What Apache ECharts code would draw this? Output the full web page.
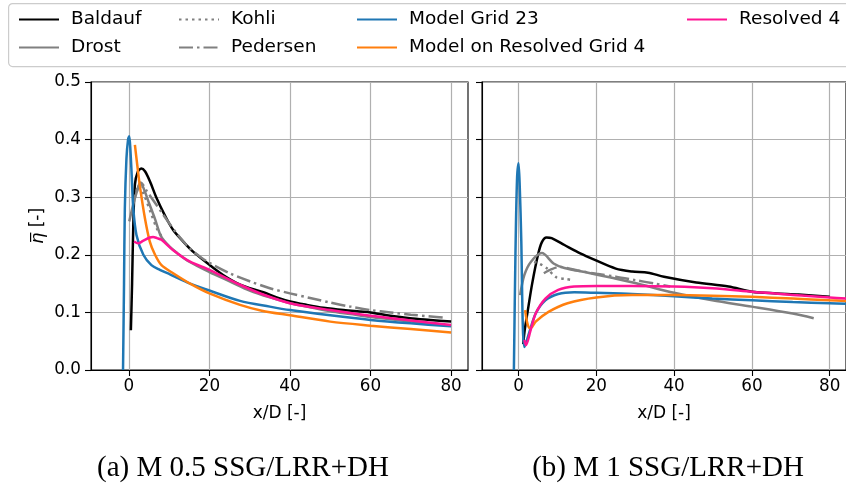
<!DOCTYPE html>
<html>
<head>
<meta charset="utf-8">
<script src="https://cdn.jsdelivr.net/npm/echarts@6/dist/echarts.min.js"></script>
<style>html,body{margin:0;padding:0;background:#fff}#c{width:846px;height:489px}</style>
</head>
<body>
<div id="c"></div>
<script>
// ---- data (x/D, eta) ----
const xTicks = [0, 20, 40, 60, 80];
const legendCols = [["Baldauf", "Drost"], ["Kohli", "Pedersen"], ["Model Grid 23", "Model on Resolved Grid 4"], ["Resolved 4"]];
const captions = ["(a) M 0.5 SSG/LRR+DH", "(b) M 1 SSG/LRR+DH"];

// panel (a) M 0.5
const baldaufA = [[0.5,0.069],[0.8,0.15],[1.1,0.252],[1.5,0.322],[2.2,0.344],[3.1,0.35],[4.0,0.345],[5.2,0.328],[6.9,0.298],[8.9,0.269],[11,0.243],[13.5,0.223],[16,0.205],[18.5,0.191],[21,0.177],[23.4,0.165],[26.8,0.151],[30,0.142],[33.4,0.135],[36.7,0.126],[40,0.119],[44.2,0.113],[48.3,0.108],[53.3,0.104],[60,0.1],[64.9,0.094],[69.8,0.09],[74.8,0.087],[80,0.084]];
const drostA = [[0.1,0.258],[1,0.285],[2,0.31],[2.8,0.325],[3.5,0.318],[5,0.29],[6.5,0.262],[8,0.232],[10,0.215],[12,0.203],[15,0.188],[20,0.17],[25,0.154],[30,0.138],[35,0.126],[40,0.116],[45,0.109],[50,0.102],[55,0.097],[60,0.092],[65,0.088],[70,0.084],[75,0.081],[78,0.079]];
const kohliA = [[1.5,0.30],[2.5,0.32],[4,0.3],[5.5,0.272],[7,0.245],[8.5,0.228]];
const pedersenA = [[2,0.31],[3,0.325],[4.5,0.31],[6,0.295],[8,0.275],[10,0.255],[12,0.236],[15,0.212],[18,0.195],[20,0.186],[25,0.168],[30,0.154],[35,0.142],[40,0.133],[45,0.125],[50,0.117],[55,0.11],[60,0.104],[65,0.1],[70,0.096],[75,0.093],[78,0.091]];
const grid23A = [[-1.45,0],[-1.2,0.15],[-1.0,0.28],[-0.6,0.367],[-0.2,0.4],[0.1,0.406],[0.4,0.38],[0.7,0.339],[1.1,0.28],[1.9,0.234],[3.6,0.2],[5.6,0.182],[7.7,0.174],[10.2,0.166],[15.2,0.15],[20,0.138],[27.6,0.12],[35,0.11],[40,0.104],[50,0.095],[60,0.087],[70,0.081],[80,0.076]];
const modelResA = [[1.5,0.391],[2.1,0.355],[2.7,0.321],[4.0,0.263],[5.2,0.223],[6.5,0.2],[8.1,0.182],[11,0.168],[15.2,0.15],[20,0.133],[27.6,0.113],[33,0.103],[40,0.095],[50,0.084],[60,0.077],[70,0.071],[80,0.065]];
const resolvedA = [[1.3,0.223],[2.3,0.22],[3.5,0.224],[5.2,0.23],[6,0.231],[7,0.229],[8.1,0.226],[11,0.208],[15.2,0.188],[20,0.174],[27.6,0.148],[33,0.132],[40,0.116],[50,0.104],[60,0.094],[70,0.086],[80,0.078]];

// panel (b) M 1
const baldaufB = [[1.2,0.045],[1.6,0.07],[2.3,0.1],[3.5,0.15],[5,0.2],[6,0.222],[7.2,0.23],[8.5,0.229],[11.8,0.217],[16,0.202],[19.3,0.192],[25,0.176],[29.2,0.171],[33.3,0.169],[37.4,0.162],[45.7,0.152],[54,0.145],[60,0.136],[66.4,0.133],[72,0.131],[80,0.127]];
const drostB = [[0.4,0.13],[1.5,0.165],[3.2,0.188],[6,0.203],[9,0.185],[11.8,0.177],[17,0.17],[24,0.16],[30,0.151],[40,0.134],[49.8,0.121],[60,0.11],[70.5,0.098],[75.9,0.09]];
const kohliB = [[4,0.188],[5.5,0.184],[7.2,0.177],[9.7,0.161],[12,0.158],[14.3,0.156]];
const pedersenB = [[6.5,0.168],[8.5,0.175],[10.6,0.179],[15,0.173],[20,0.167],[25,0.162],[30,0.156],[35,0.15],[39,0.145]];
const grid23B = [[-1.2,0],[-0.8,0.2],[-0.4,0.33],[0,0.359],[0.3,0.32],[0.7,0.225],[1.1,0.075],[1.5,0.04],[2.7,0.064],[4.4,0.098],[6.9,0.121],[10.2,0.132],[14.3,0.135],[20,0.134],[29.2,0.132],[40,0.128],[49.8,0.124],[60,0.121],[70.5,0.118],[80,0.116],[84.2,0.115]];
const modelResB = [[1.7,0.104],[2.3,0.08],[2.9,0.073],[3.5,0.075],[4.4,0.084],[7.7,0.101],[12.6,0.116],[20,0.126],[29.2,0.13],[40,0.13],[49.8,0.129],[60,0.127],[70.5,0.124],[80,0.121],[84.2,0.12]];
const resolvedB = [[1.5,0.052],[1.9,0.043],[3.1,0.069],[4.4,0.098],[6.9,0.124],[10.2,0.139],[14.3,0.145],[20,0.146],[29.2,0.146],[40,0.145],[49.8,0.142],[60,0.136],[70.5,0.13],[80,0.126],[84.2,0.124]];

// ---- styles ----
const styles = {
  "Baldauf": {color: "#000000", type: "solid"},
  "Drost": {color: "#808080", type: "solid"},
  "Kohli": {color: "#808080", type: [2.5, 4]},
  "Pedersen": {color: "#808080", type: [14, 4, 2.5, 4]},
  "Model Grid 23": {color: "#1f77b4", type: "solid"},
  "Model on Resolved Grid 4": {color: "#ff7f0e", type: "solid"},
  "Resolved 4": {color: "#ff1493", type: "solid"}
};
const panelData = [
  {"Baldauf": baldaufA, "Drost": drostA, "Kohli": kohliA, "Pedersen": pedersenA, "Model Grid 23": grid23A, "Model on Resolved Grid 4": modelResA, "Resolved 4": resolvedA},
  {"Baldauf": baldaufB, "Drost": drostB, "Kohli": kohliB, "Pedersen": pedersenB, "Model Grid 23": grid23B, "Model on Resolved Grid 4": modelResB, "Resolved 4": resolvedB}
];
const drawOrder = ["Baldauf", "Drost", "Kohli", "Pedersen", "Model Grid 23", "Model on Resolved Grid 4", "Resolved 4"];

const FONT = "DejaVu Sans";
const series = [];
panelData.forEach((pd, i) => {
  drawOrder.forEach(name => {
    series.push({
      name: name, type: "line", xAxisIndex: i, yAxisIndex: i,
      data: pd[name], showSymbol: false, symbol: "none", smooth: 0.3,
      clip: true, animation: false,
      lineStyle: {color: styles[name].color, width: 2.5, type: styles[name].type},
      itemStyle: {color: styles[name].color}
    });
  });
});

const gridLefts = [91, 482];
const grids = gridLefts.map(l => ({left: l, top: 82, width: 377, height: 288, show: true, borderColor: "#000", borderWidth: 1.1, backgroundColor: "transparent"}));
const xAxes = [0, 1].map(i => ({
  type: "value", gridIndex: i, min: -9.4, max: 84.2,
  name: "x/D [-]", nameLocation: "middle", nameGap: 35,
  nameTextStyle: {fontFamily: FONT, fontSize: 17, color: "#000"},
  axisLine: {onZero: false, lineStyle: {color: "#000", width: 1.1}},
  axisTick: {show: true, length: 6, customValues: xTicks, lineStyle: {color: "#000", width: 1.1}},
  axisLabel: {customValues: xTicks, fontFamily: FONT, fontSize: 16.8, color: "#000", margin: 8},
  splitLine: {show: true, lineStyle: {color: "#b0b0b0", width: 1.2}}
}));
const yAxes = [0, 1].map(i => ({
  type: "value", gridIndex: i, min: 0, max: 0.5, interval: 0.1,
  name: i === 0 ? "{eta|\u03B7\u0305} [-]" : "", nameLocation: "middle", nameGap: 44, nameRotate: 90,
  nameTextStyle: {fontFamily: FONT, fontSize: 17, color: "#000", rich: {eta: {fontFamily: FONT, fontSize: 18, fontStyle: "italic", color: "#000"}}},
  axisLine: {show: true, onZero: false, lineStyle: {color: "#000", width: 1.1}},
  axisTick: {show: true, length: 6, lineStyle: {color: "#000", width: 1.1}},
  axisLabel: {show: i === 0, fontFamily: FONT, fontSize: 16.8, color: "#000", margin: 10, formatter: v => v.toFixed(1)},
  splitLine: {show: true, lineStyle: {color: "#b0b0b0", width: 1.2}}
}));

const colLefts = [18, 178, 356, 686];
const legends = legendCols.map((names, k) => ({
  data: names, orient: "vertical", left: colLefts[k], top: 10, itemGap: 9,
  itemWidth: 40, itemHeight: 14, padding: 0, z: 5, selectedMode: false,
  itemStyle: {color: "rgba(0,0,0,0)", borderWidth: 0, opacity: 0},
  textStyle: {fontFamily: FONT, fontSize: 18.5, color: "#000", padding: [0, 0, 0, 7]}
}));

const chart = echarts.init(document.getElementById("c"), null, {renderer: "canvas"});
chart.setOption({
  animation: false,
  backgroundColor: "#fff",
  grid: grids, xAxis: xAxes, yAxis: yAxes, legend: legends, series: series,
  graphic: [
    {type: "rect", left: 8, top: 3, z: 1, shape: {width: 900, height: 63, r: 4}, style: {fill: "#fff", stroke: "#cccccc", lineWidth: 1.2}},
    {type: "text", x: 243, y: 468, z: 5, style: {text: captions[0], font: "29px 'Liberation Serif'", fill: "#000", align: "center", verticalAlign: "middle"}},
    {type: "text", x: 668, y: 468, z: 5, style: {text: captions[1], font: "29px 'Liberation Serif'", fill: "#000", align: "center", verticalAlign: "middle"}}
  ]
});
</script>
</body>
</html>
